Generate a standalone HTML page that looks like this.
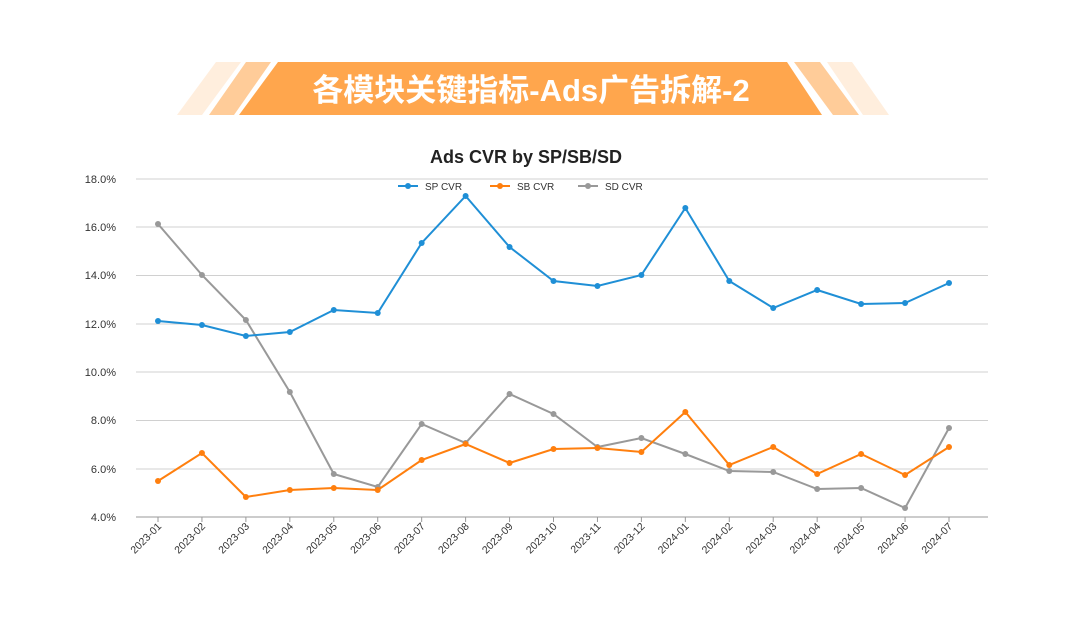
<!DOCTYPE html>
<html><head><meta charset="utf-8"><style>
body{margin:0;background:#fff}
svg{display:block}
text{font-family:"Liberation Sans","Noto Sans CJK SC",sans-serif}
</style></head><body>
<svg width="1080" height="641" viewBox="0 0 1080 641">
<polygon points="216,62 241,62 202,115 177,115" fill="#FFEEDD"/>
<polygon points="246,62 271,62 234,115 209,115" fill="#FFCC99"/>
<polygon points="278,62 787,62 822,115 239,115" fill="#FFA64D"/>
<polygon points="794,62 820,62 859,115 833,115" fill="#FFCC99"/>
<polygon points="827,62 852,62 889,115 863,115" fill="#FFEEDD"/>
<text x="531" y="101" text-anchor="middle" font-size="31" font-weight="bold" fill="#fff">各模块关键指标-Ads广告拆解-2</text>
<text x="526" y="163" text-anchor="middle" font-size="18" font-weight="bold" fill="#222">Ads CVR by SP/SB/SD</text>
<g stroke="#d0d0d0" stroke-width="1">
<line x1="136" y1="179" x2="988" y2="179"/><line x1="136" y1="227" x2="988" y2="227"/>
<line x1="136" y1="275.5" x2="988" y2="275.5"/><line x1="136" y1="324" x2="988" y2="324"/>
<line x1="136" y1="372" x2="988" y2="372"/><line x1="136" y1="420.5" x2="988" y2="420.5"/>
<line x1="136" y1="469" x2="988" y2="469"/>
</g>
<line x1="136" y1="517" x2="988" y2="517" stroke="#999"/>
<g font-size="11" fill="#333" text-anchor="end">
<text x="116" y="183">18.0%</text><text x="116" y="231">16.0%</text><text x="116" y="279">14.0%</text>
<text x="116" y="328">12.0%</text><text x="116" y="376">10.0%</text><text x="116" y="424">8.0%</text>
<text x="116" y="473">6.0%</text><text x="116" y="521">4.0%</text>
</g>
<g font-size="10.5" fill="#333" text-anchor="end" id="xl"></g>
<g font-size="10" fill="#333">
<line x1="398" y1="186" x2="418" y2="186" stroke="#1F8FD6" stroke-width="2"/><circle cx="408" cy="186" r="3" fill="#1F8FD6"/><text x="425" y="190">SP CVR</text>
<line x1="490" y1="186" x2="510" y2="186" stroke="#FF7F0E" stroke-width="2"/><circle cx="500" cy="186" r="3" fill="#FF7F0E"/><text x="517" y="190">SB CVR</text>
<line x1="578" y1="186" x2="598" y2="186" stroke="#999" stroke-width="2"/><circle cx="588" cy="186" r="3" fill="#999"/><text x="605" y="190">SD CVR</text>
</g>
<g id="series"></g>
</svg>
<script>
var x0=158,dx=(949-158)/18,ns="http://www.w3.org/2000/svg";
var labels=["2023-01","2023-02","2023-03","2023-04","2023-05","2023-06","2023-07","2023-08","2023-09","2023-10","2023-11","2023-12","2024-01","2024-02","2024-03","2024-04","2024-05","2024-06","2024-07"];
var xl=document.getElementById("xl");
labels.forEach(function(l,i){var x=x0+i*dx;var t=document.createElementNS(ns,"text");t.setAttribute("x",x+4);t.setAttribute("y",527);t.setAttribute("transform","rotate(-45 "+(x+4)+" 527)");t.textContent=l;xl.appendChild(t);
var tk=document.createElementNS(ns,"line");tk.setAttribute("x1",x);tk.setAttribute("x2",x);tk.setAttribute("y1",517);tk.setAttribute("y2",522);tk.setAttribute("stroke","#999");xl.appendChild(tk);});
var S=[["#999",[224,275,320,392,474,487,424,443,394,414,447,438,454,471,472,489,488,508,428]],
["#FF7F0E",[481,453,497,490,488,490,460,444,463,449,448,452,412,465,447,474,454,475,447]],
["#1F8FD6",[321,325,336,332,310,313,243,196,247,281,286,275,208,281,308,290,304,303,283]]];
var g=document.getElementById("series");
S.forEach(function(s){var p=s[1].map(function(y,i){return (x0+i*dx)+","+y}).join(" ");
var pl=document.createElementNS(ns,"polyline");pl.setAttribute("points",p);pl.setAttribute("fill","none");pl.setAttribute("stroke",s[0]);pl.setAttribute("stroke-width","2");g.appendChild(pl);
s[1].forEach(function(y,i){var c=document.createElementNS(ns,"circle");c.setAttribute("cx",x0+i*dx);c.setAttribute("cy",y);c.setAttribute("r","3");c.setAttribute("fill",s[0]);g.appendChild(c);});});
</script>
</body></html>
